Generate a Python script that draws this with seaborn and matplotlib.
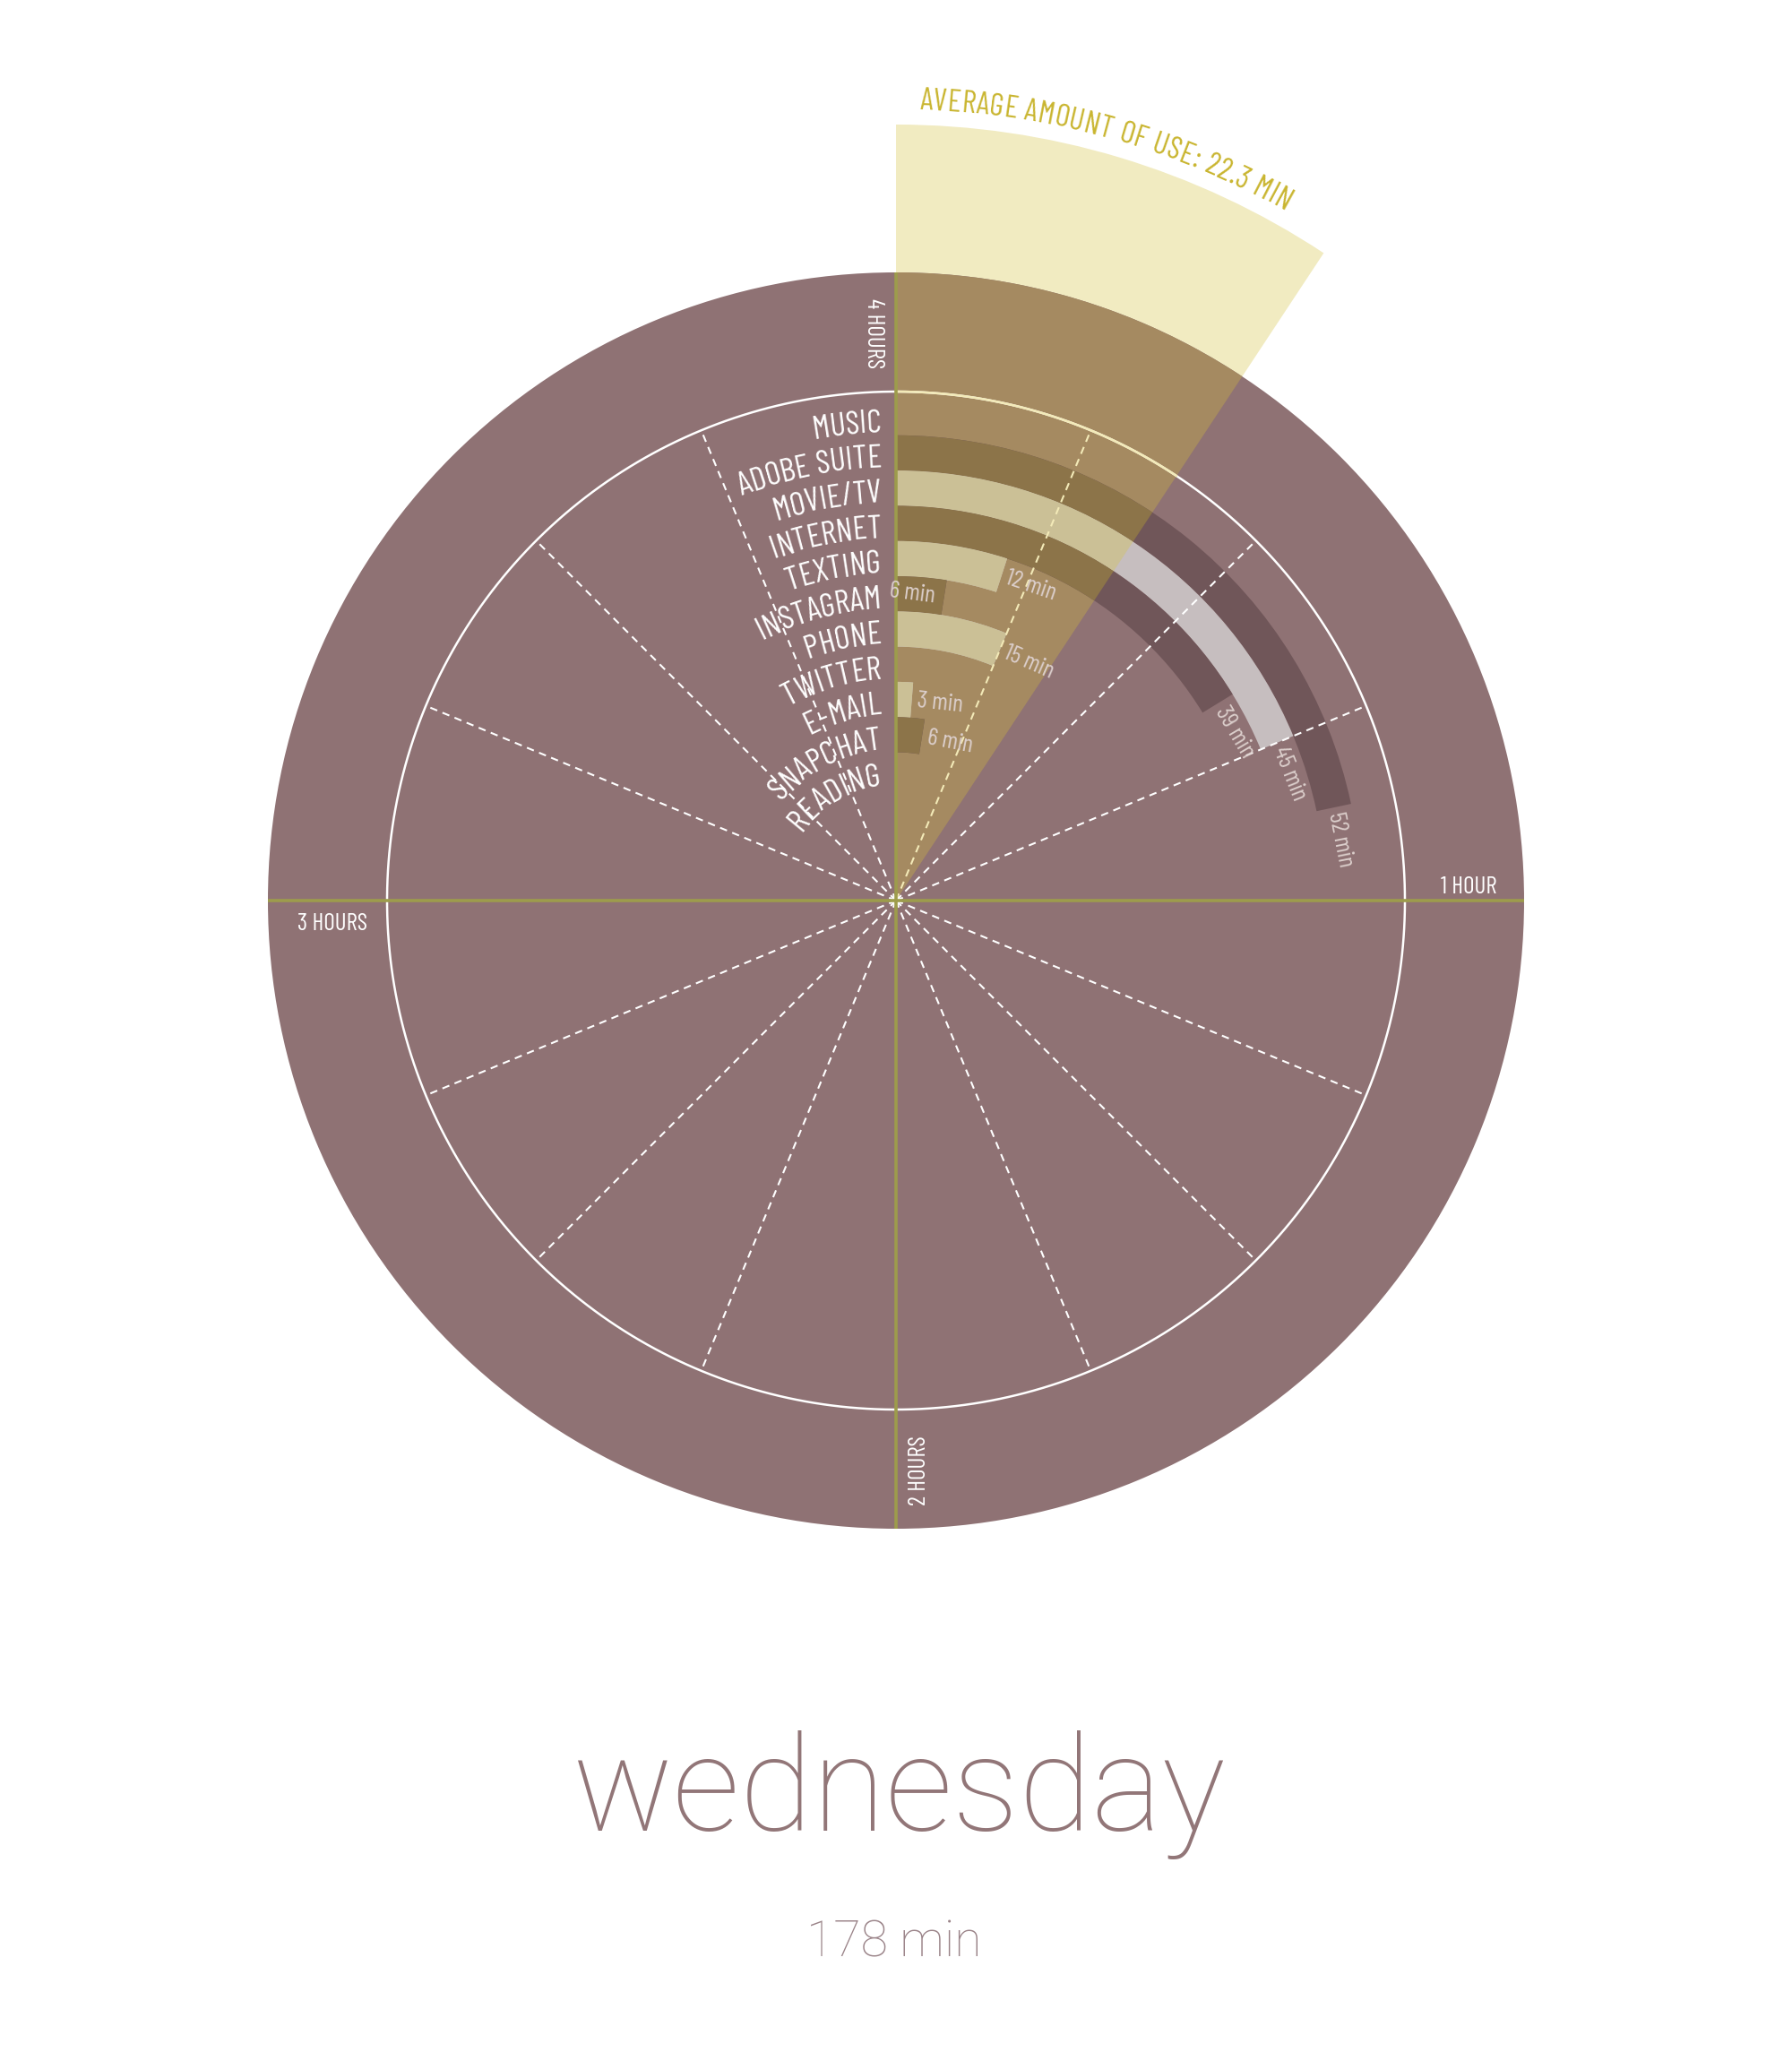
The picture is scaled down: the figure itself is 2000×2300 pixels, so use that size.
import numpy as np
import matplotlib
matplotlib.use('Agg')
import matplotlib.pyplot as plt
from matplotlib import font_manager as fm
from matplotlib.ft2font import FT2Font
import seaborn as sns

# data
categories = ['MUSIC', 'ADOBE SUITE', 'MOVIE/TV', 'INTERNET', 'TEXTING', 'INSTAGRAM',
              'PHONE', 'TWITTER', 'E-MAIL', 'SNAPCHAT', 'READING']
minutes = [0, 52, 45, 39, 12, 6, 15, 0, 3, 6, 0]
average = 22.3
total = 178
day = 'wednesday'
full_scale = 240  # one turn = 4 hours

sns.set_theme(style='white')
avail = {f.name for f in fm.fontManager.ttflist}


def pick(*names):
    for n in names:
        if n in avail:
            return n
    return 'DejaVu Sans'


narrow = pick('Barlow Condensed', 'Roboto Condensed', 'Liberation Sans Narrow', 'Liberation Sans')
thin = pick('Roboto', 'Lato', 'Open Sans', 'Inter', 'Liberation Sans')
plt.rcParams['font.family'] = [narrow, 'DejaVu Sans']

# colours
mauve = '#8f7274'
wedge_out = '#f1ebc1'
wedge_in = '#a58a61'
dark_out, light_out = '#705659', '#c6bebf'
dark_in, light_in = '#8c7449', '#cbc096'
olive = '#9d9c4c'
cream = '#f3eab8'
val_col = '#dccfcc'
avg_col = '#c9b52f'

W, H = 2000, 2300
CX, CY = 1000, 1005
R_OUT, R_GRID, R_AVG = 701, 568, 866
ROW_TOP, ROW_H = 558.5, 39.3

fig = plt.figure(figsize=(20, 23), dpi=100)
ax = fig.add_axes([0, (H - CY - 1000) / H, 1, 2000 / H], projection='polar')
ax.set_theta_zero_location('N')
ax.set_theta_direction(-1)
ax.set_ylim(0, 1000)
ax.set_axis_off()


def ang(m):
    return np.asarray(m) / full_scale * 2 * np.pi


def px(x, y):
    return np.arctan2(x - CX, CY - y), np.hypot(x - CX, CY - y)


avg_w = ang(average)
ax.bar(0, R_AVG, width=avg_w, align='edge', color=wedge_out, lw=0)
ax.bar(0, R_OUT, width=2 * np.pi, align='edge', color=mauve, lw=0)
ax.bar(0, R_OUT, width=avg_w, align='edge', color=wedge_in, lw=0)

inner = [ROW_TOP - ROW_H * (i + 1) for i in range(len(categories))]
cols_out = [dark_out if i % 2 else light_out for i in range(len(categories))]
cols_in = [dark_in if i % 2 else light_in for i in range(len(categories))]
vals = ang(minutes)
ax.bar(0, ROW_H, width=vals, bottom=inner, align='edge', color=cols_out, lw=0)
ax.bar(0, ROW_H, width=np.minimum(vals, avg_w), bottom=inner, align='edge', color=cols_in, lw=0)

# grid circle and dashed spokes
t = np.linspace(0, 2 * np.pi, 720)
ax.plot(t, np.full_like(t, R_GRID), color='white', lw=1.8)
t2 = np.linspace(0, avg_w, 60)
ax.plot(t2, np.full_like(t2, R_GRID), color=cream, lw=1.8)
for k in range(16):
    if k % 4 == 0:
        continue
    th = k * np.pi / 8
    ax.plot([th, th], [0, R_GRID], color=cream if th < avg_w else 'white', lw=1.5,
            dashes=(4, 3))
for th in [0, np.pi / 2, np.pi, 3 * np.pi / 2]:
    ax.plot([th, th], [0, R_OUT], color=olive, lw=2.6, solid_capstyle='butt')


def advances(s, prop):
    f = FT2Font(fm.findfont(prop))
    f.set_size(prop.get_size_in_points(), 100)
    out = []
    for ch in s:
        g = f.load_char(ord(ch))
        out.append(g.linearHoriAdvance / 65536)
    return np.array(out)


def curved(s, r, prop, color, start=None, end=None, track=0.0):
    adv = advances(s, prop) + track
    length = adv.sum() - track
    if start is None:
        start = end - length / r
    x = np.concatenate([[0], np.cumsum(adv)[:-1]])
    for ch, x0, a in zip(s, x, adv):
        if ch == ' ':
            continue
        tc = start + (x0 + (a - track) / 2) / r
        ax.text(tc, r, ch, rotation=-np.degrees(tc), rotation_mode='anchor',
                ha='center', va='baseline', fontproperties=prop, color=color)


lab_prop = fm.FontProperties(family=narrow, size=26.5)
for name, r0 in zip(categories, inner):
    rb = r0 + 4
    curved(name, rb, lab_prop, 'white', end=-np.arcsin(16 / rb))

# value labels
for name, m, r0 in zip(categories, minutes, inner):
    if m == 0:
        continue
    rm = r0 + ROW_H / 2
    te = ang(m)
    lbl = f'{m} min'
    if name == 'INSTAGRAM':
        th = te - 10 / rm
        ax.text(th, rm, lbl, rotation=-np.degrees(th), rotation_mode='anchor',
                ha='right', va='center', fontsize=19.5, color=val_col)
    else:
        th = te + 6 / rm
        ax.text(th, rm, lbl, rotation=-np.degrees(th), rotation_mode='anchor',
                ha='left', va='center', fontsize=19.5, color=val_col)

avg_prop = fm.FontProperties(family=narrow, size=25)
curved(f'AVERAGE AMOUNT OF USE: {average} MIN', 883, avg_prop, avg_col,
       start=np.radians(1.7), track=0.6)

# hour labels
ax.text(*px(975, 333), '4 HOURS', rotation=270, ha='center', va='top', fontsize=19.5, color='white')
ax.text(*px(1026, 1680), '2 HOURS', rotation=90, ha='center', va='bottom', fontsize=19.5, color='white')
ax.text(*px(1670, 997), '1 HOUR', ha='right', va='baseline', fontsize=19.5, color='white')
ax.text(*px(332, 1019), '3 HOURS', ha='left', va='top', fontsize=19.5, color='white')

fig.text(1004 / W, 1 - 2043 / H, day, ha='center', va='baseline', fontsize=107,
         family=thin, weight='light', color='#927678')
fig.text(998 / W, 1 - 2183 / H, f'{total} min', ha='center', va='baseline', fontsize=40,
         family=thin, weight='light', color='#9a8388')

fig.savefig('out.png', dpi=100, facecolor='white')
